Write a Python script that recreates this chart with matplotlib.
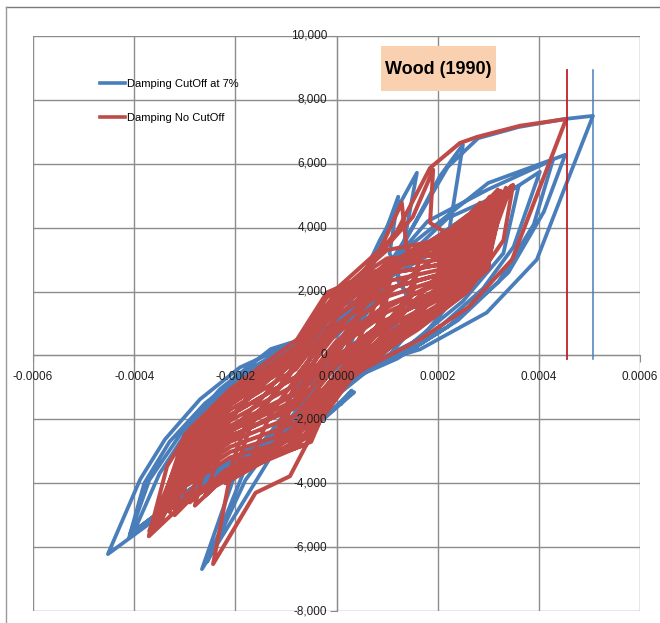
import numpy as np
import matplotlib.pyplot as plt
from matplotlib.lines import Line2D
from matplotlib.patches import Rectangle
from matplotlib.transforms import offset_copy

# strain values below are in units of 1e-4, force in plain units
blue_path = [
    (0.00, 0),
    (0.45, 1100), (0.25, 200), (-0.50, -900), (-0.35, -300),
    (0.30, 600), (1.00, 2300), (0.85, 900), (-0.20, -700), (-1.10, -2300), (-0.90, -1300), (-0.30, 200),
    (0.40, 1400), (1.22, 4970), (1.05, 3200), (1.45, 1600), (0.80, 100), (0.10, -900), (-0.70, -2000),
    (-1.70, -2900), (-2.50, -3700), (-3.30, -4750),
    (-2.90, -2800), (-2.10, -1200), (-1.00, 150), (0.00, 750), (0.86, 3620), (1.59, 5720), (1.20, 2375),
    (1.70, 1200), (0.90, -250), (0.00, -1000),
    (-1.00, -2400), (-2.66, -6690), (-2.04, -3875), (-1.30, -2400), (-0.40, -500), (0.30, 800),
    (1.30, 3400), (2.04, 5600), (2.50, 6600), (2.20, 3620), (2.70, 2500), (1.70, 600), (0.60, -500),
    (-0.50, -1900), (-1.71, -3160), (-2.55, -6450), (-1.80, -3900), (-1.20, -2600),
    (-0.50, -1100), (0.20, 600), (1.00, 2400), (2.00, 3300), (3.00, 4700), (4.02, 5750), (3.50, 3400),
    (2.90, 2100), (1.70, 400), (0.70, -300), (-0.40, -1500), (-1.80, -3100), (-3.00, -4300), (-4.08, -5590),
    (-3.70, -3900), (-3.10, -2500), (-2.30, -1050), (-1.30, 200), (-0.20, 750), (0.70, 2200), (1.80, 4200),
    (3.00, 5200), (4.28, 6125), (3.90, 4100), (3.20, 2300), (2.20, 900), (1.20, -100), (0.20, -800),
    (-0.90, -2100), (-2.00, -3400), (-3.20, -4600), (-4.10, -5700),
    (-3.80, -4000), (-3.30, -2700), (-2.60, -1500), (-1.80, -500), (-0.80, 400), (0.20, 1200), (1.50, 3500),
    (3.00, 5400), (4.52, 6280), (4.10, 4500), (3.40, 2600), (2.40, 1100), (1.40, 100), (0.40, -600),
    (-0.80, -2000), (-2.10, -3500), (-3.30, -4800), (-4.52, -6220),
    (-3.88, -3875), (-3.39, -2625), (-2.70, -1375), (-1.91, -375), (-0.92, 344), (0.00, 810), (0.70, 2000),
    (1.50, 4000), (2.20, 5900), (2.80, 6800), (3.60, 7150), (4.50, 7400), (5.07, 7500),
    (4.55, 5400), (3.96, 3000), (2.97, 1340), (1.65, 190), (0.86, -190), (0.00, -900), (-0.92, -2160),
    (-1.71, -2940), (-2.50, -3720), (-3.29, -4660), (-4.00, -5500),
    (-3.50, -3700), (-2.80, -2000), (-2.00, -800), (-1.00, 100), (0.00, 600), (1.00, 2500), (2.20, 4300),
    (3.60, 5300), (3.30, 3200), (2.50, 1700), (1.50, 400), (0.50, -400), (-0.50, -1700), (-1.50, -2800),
    (-2.60, -3900), (-3.50, -5000),
    (-3.10, -3200), (-2.40, -1800), (-1.50, -500), (-0.50, 500), (0.40, 1600), (1.50, 3200), (2.80, 4600),
    (2.60, 2800), (1.80, 1200), (0.80, 0), (0.00, -800),
    (-0.30, -2050), (0.35, -1150), (0.20, -1300), (-0.20, -1900), (0.30, -1100), (0.10, -1500),
]

red_path = [
    (0.00, 0),
    (0.50, 1400), (0.20, 200), (-0.40, -900), (-0.20, -100),
    (0.30, 1000), (1.10, 2700), (0.90, 1000), (0.20, -400), (-0.70, -1700), (-1.20, -2500),
    (-0.90, -1200), (-0.40, 300), (0.10, 1500), (0.90, 2700), (1.70, 3500), (1.50, 1900), (0.80, 400),
    (0.00, -800), (-0.70, -2300), (-1.60, -3100), (-2.00, -3600),
    (-1.70, -2200), (-1.10, -900), (-0.40, 700), (0.20, 1900), (1.20, 3000), (2.20, 3900), (2.60, 4400),
    (2.40, 2700), (1.70, 1400), (0.80, 100), (0.00, -900), (-0.50, -2400), (-1.50, -3300), (-2.40, -4100),
    (-2.80, -4700),
    (-2.50, -2800), (-1.80, -1400), (-0.90, 0), (-0.20, 1800), (0.86, 3310), (1.29, 4780), (1.39, 3310),
    (1.90, 3100), (2.70, 4300), (3.03, 4970), (2.90, 3300), (2.20, 1800), (1.20, 500), (0.40, -500),
    (-0.30, -1700), (-0.80, -2900), (-1.80, -3400), (-2.70, -4200), (-3.20, -5000),
    (-2.90, -3000), (-2.10, -1500), (-1.00, -200), (-0.40, 1200), (0.30, 2200), (1.51, 4340), (1.91, 5810),
    (1.85, 4150), (2.30, 3700), (3.19, 5190), (3.00, 3500), (2.40, 2100), (1.40, 700), (0.50, -400),
    (-0.20, -1500), (-0.60, -2800), (-1.50, -3200), (-2.04, -3250), (-2.44, -6530), (-1.60, -4300),
    (-0.92, -3780), (-0.40, -2200), (0.20, -300),
    (0.80, 1700), (1.90, 3000), (3.49, 5340), (3.30, 3600), (2.60, 2000), (1.60, 800), (0.70, -100),
    (-0.10, -1200), (-0.50, -2700), (-1.40, -3300), (-2.30, -3900), (-3.00, -4600), (-3.71, -5660),
    (-3.35, -3470), (-2.90, -2310), (-2.10, -1060), (-0.78, 500), (-0.19, 1970), (0.40, 2375), (1.20, 3900),
    (1.85, 5870), (2.44, 6650), (2.78, 6840), (3.63, 7190), (4.54, 7400),
    (3.47, 3000), (2.60, 1500), (1.65, 500), (0.80, -200), (0.00, -900), (-0.40, -2300), (-1.20, -3100),
    (-2.20, -3700), (-3.00, -4500), (-3.40, -4900),
    # denser middle cycles
    (-3.00, -2760), (-2.10, -1540), (-0.80, -190), (0.00, 1470), (1.00, 2560), (2.00, 2830), (3.00, 4100),
    (3.30, 5000), (3.00, 2900), (2.00, 1570), (1.00, 640), (0.00, -570), (-0.80, -2110), (-2.10, -2860),
    (-3.00, -3840), (-3.60, -5400),
    (-3.00, -2490), (-2.10, -1210), (-0.80, 290), (0.00, 1980), (1.00, 3040), (2.00, 3145), (3.00, 4400),
    (3.20, 5100), (3.00, 3200), (2.00, 1885), (1.00, 1120), (0.00, -60), (-0.80, -1630), (-2.10, -2530),
    (-3.00, -3570), (-3.30, -4700),
    (-3.00, -3030), (-2.10, -1870), (-0.80, -670), (0.00, 960), (1.00, 2080), (2.00, 2515), (3.00, 3800),
    (3.10, 4700), (3.00, 2700), (2.00, 1350), (1.00, 400), (0.00, -1000), (-0.80, -2590), (-2.10, -3190),
    (-3.00, -4110), (-3.50, -5100),
    (-3.00, -3300), (-2.10, -2200), (-0.80, -1150), (0.00, 450), (1.00, 1600), (2.00, 2200), (3.00, 3500),
    (3.40, 5200), (3.00, 3800), (2.00, 2515), (1.00, 2080), (0.00, 960), (-0.80, -670), (-2.10, -1870),
    (-3.00, -3030), (-3.00, -4500),
    (-2.10, -2530), (-0.80, -1630), (0.00, -60), (1.00, 1120), (2.00, 1885), (3.05, 4900), (2.00, 2830),
    (1.00, 2560), (0.00, 1470), (-0.80, -190), (-2.10, -1540), (-3.00, -2760), (-3.70, -5500),
    (-3.00, -2900), (-2.10, -1700), (-0.80, -430), (0.00, 1220), (1.00, 2320), (2.00, 2670), (3.00, 3950),
    (3.35, 5250), (3.00, 3050), (2.00, 1730), (1.00, 880), (0.00, -320), (-0.80, -1870), (-2.10, -2700),
    (-3.00, -3700), (-3.20, -4800),
    (-3.00, -2620), (-2.10, -1380), (-0.80, 50), (0.00, 1720), (1.00, 2800), (2.00, 2990), (3.00, 4250),
    (3.25, 5150), (3.00, 2800), (2.00, 1450), (1.00, 500), (0.00, -830), (-0.80, -2350), (-2.10, -3020),
    (-3.00, -3980), (-3.55, -5300),
    (-3.00, -3170), (-2.10, -2040), (-0.80, -910), (0.00, 700), (1.00, 1840), (2.00, 2360), (3.00, 3650),
    (3.45, 5300), (3.00, 3350), (2.00, 2040), (1.00, 1360), (0.00, 200), (-0.80, -1390), (-2.10, -2370),
    (-3.00, -3440), (-3.30, -4900),
    (-3.00, -2600), (-2.10, -1300), (-0.80, 200), (0.00, 1900), (1.00, 3300), (2.00, 3600), (2.60, 4300),
    (3.00, 4850), (2.80, 3300), (2.00, 2300), (1.00, 1500), (0.00, 300), (-0.80, -1200), (-2.10, -2300),
    (-3.00, -3300), (-3.60, -5450),
    (-3.00, -2700), (-2.10, -1450), (-0.80, 0), (0.00, 1600), (1.00, 2900), (2.00, 3400), (2.80, 4600),
    (3.15, 5050), (3.00, 3600), (2.00, 2100), (1.00, 1000), (0.00, -200), (-0.80, -1500), (-2.10, -2600),
    (-3.00, -3600), (-3.50, -5300),
    # decaying cycles
    (-3.10, -3300), (-2.50, -1900), (-1.60, -800), (-0.60, 300), (0.00, 1700), (0.70, 2600), (1.90, 3200),
    (2.84, 4780), (2.70, 3200), (2.00, 1900), (1.00, 500), (0.20, -600), (-0.40, -2000), (-1.20, -2900),
    (-2.20, -3600), (-2.90, -4600),
    (-2.60, -2900), (-1.90, -1600), (-0.90, -100), (-0.10, 1500), (0.60, 2400), (1.60, 3000), (2.50, 4200),
    (3.10, 4900), (2.95, 3200), (2.20, 1700), (1.20, 400), (0.30, -700), (-0.30, -2000), (-1.00, -3000),
    (-2.00, -3500), (-2.60, -4400),
    (-2.20, -2600), (-1.40, -1200), (-0.60, 400), (0.10, 1800), (1.00, 2600), (2.00, 3500), (2.70, 4500),
    (2.50, 2900), (1.60, 1400), (0.70, 200), (0.00, -1000), (-0.50, -2500), (-1.30, -3200), (-2.20, -4000),
    (-1.80, -2200), (-1.00, -800), (-0.30, 900), (0.40, 2000), (1.40, 2900), (2.20, 3900), (2.00, 2500),
    (1.20, 1100), (0.40, -200), (-0.20, -1300), (-0.90, -2600), (-1.70, -3300),
    (-1.30, -1800), (-0.60, -300), (0.00, 1200), (0.90, 2400), (1.70, 3300), (1.40, 1800), (0.60, 300),
    (-0.10, -900), (-0.70, -2100), (-1.20, -2700),
    (-0.80, -1300), (-0.30, 200), (0.40, 1500), (1.00, 2300), (0.80, 900), (0.10, -400), (-0.50, -1500),
    (-0.20, -500), (0.20, 700), (0.00, 0),
]

# vertical markers at the peak strain of each run
blue_cut_x = 0.000507
red_cut_x = 0.000455
cut_y = [-100, 8950]

x_ticks = [-0.0006, -0.0004, -0.0002, 0.0, 0.0002, 0.0004, 0.0006]
x_labels = ['-0.0006', '-0.0004', '-0.0002', '0.0000', '0.0002', '0.0004', '0.0006']
y_ticks = [-8000, -6000, -4000, -2000, 0, 2000, 4000, 6000, 8000, 10000]
y_labels = ['-8,000', '-6,000', '-4,000', '-2,000', '0', '2,000', '4,000', '6,000', '8,000', '10,000']

BLUE = '#4A7EBB'
RED = '#BE4B48'
GRID = '#8C8C8C'
FONT = ['Liberation Sans', 'DejaVu Sans']

bx, by = np.array(blue_path).T
rx, ry = np.array(red_path).T
bx = bx * 1e-4
rx = rx * 1e-4

W, H = 660, 623
fig = plt.figure(figsize=(W / 100, H / 100), dpi=100)
ax = fig.add_axes([33 / W, 1 - 611 / H, (640 - 33) / W, (611 - 36) / H])

ax.plot(bx, by, color=BLUE, lw=2.7, solid_joinstyle='round', label='Damping CutOff at 7%', zorder=2)
ax.plot(rx, ry, color=RED, lw=2.9, solid_joinstyle='round', label='Damping No CutOff', zorder=3)
ax.plot([red_cut_x, red_cut_x], cut_y, color='#C0202A', lw=1.3, zorder=4)
ax.plot([blue_cut_x, blue_cut_x], cut_y, color=BLUE, lw=1.1, zorder=4)

ax.set_xlim(-0.0006, 0.0006)
ax.set_ylim(-8000, 10000)
ax.set_xticks(x_ticks)
ax.set_yticks(y_ticks)
ax.set_axisbelow(True)
ax.grid(True, color=GRID, lw=1.0)
for side in ['top', 'right']:
    ax.spines[side].set_visible(False)
for side in ['left', 'bottom']:
    ax.spines[side].set_position('zero')
    ax.spines[side].set_color(GRID)
    ax.spines[side].set_zorder(0.6)
ax.tick_params(direction='out', length=5, color=GRID, labelleft=False, labelbottom=False)

# tick labels drawn on top of the data, like the original
ylab_tr = offset_copy(ax.transData, fig=fig, x=-9, y=0, units='dots')
for v, s in zip(y_ticks, y_labels):
    ax.text(0, v, s, transform=ylab_tr, ha='right', va='center', fontsize=8.5,
            family=FONT, color='#1e1e1e', zorder=10)
xlab_tr = offset_copy(ax.transData, fig=fig, x=0, y=-22, units='dots')
for v, s in zip(x_ticks, x_labels):
    ax.text(v, 0, s, transform=xlab_tr, ha='center', va='center', fontsize=8.5,
            family=FONT, color='#1e1e1e', zorder=10)

leg = ax.legend(loc='upper left', bbox_to_anchor=(94 / W, 1 - 73 / H), bbox_transform=fig.transFigure,
                frameon=False, handlelength=2.3, handletextpad=0.15, labelspacing=2.2, borderpad=0,
                prop={'family': FONT, 'size': 8})
for h in leg.get_lines():
    h.set_linewidth(2.6)

# title box
fig.patches.append(Rectangle((381 / W, 1 - 91 / H), 115 / W, 45 / H, transform=fig.transFigure,
                             facecolor='#FAD1B0', edgecolor='none', zorder=5))
fig.text(438.5 / W, 1 - 69 / H, 'Wood (1990)', ha='center', va='center', fontsize=13,
         fontweight='bold', family=FONT, color='black', zorder=6)

# outer frame of the picture
fig.add_artist(Line2D([6 / W, 1], [1 - 7 / H, 1 - 7 / H], transform=fig.transFigure, color='#7a7a7a', lw=1))
fig.add_artist(Line2D([6 / W, 6 / W], [0, 1 - 7 / H], transform=fig.transFigure, color='#9a9a9a', lw=1))

fig.savefig('out.png', dpi=100)
